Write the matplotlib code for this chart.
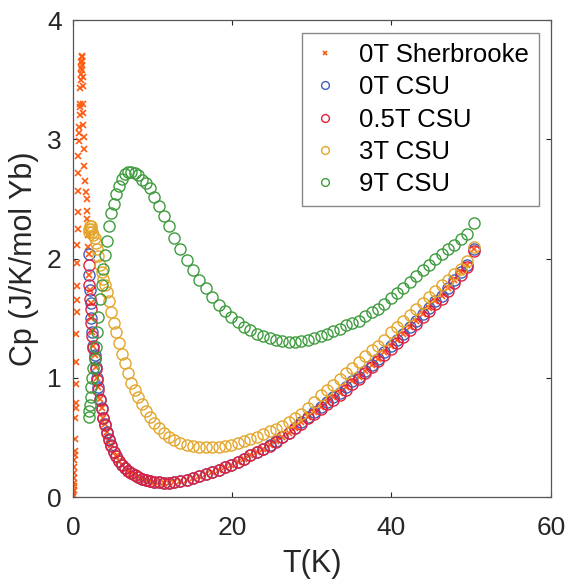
import matplotlib
matplotlib.use("Agg")
import matplotlib.pyplot as plt

plt.rcParams['font.family'] = ['Liberation Sans', 'DejaVu Sans']

# Temperature grid shared by the CSU runs (K)
t_csu = [1.97, 2.04, 2.13, 2.23, 2.34, 2.46, 2.59, 2.73, 2.88, 3.04,
         3.21, 3.40, 3.60, 3.82, 4.05, 4.30, 4.57, 4.85, 5.15, 5.47,
         5.80, 6.17, 6.55, 6.95, 7.36, 7.78, 8.20, 8.65, 9.15, 9.65,
         10.2, 10.8, 11.4, 12.05, 12.75, 13.5, 14.3, 15.1, 15.9, 16.7,
         17.5, 18.3, 19.1, 19.9, 20.7, 21.5, 22.3, 23.1, 23.9, 24.7,
         25.5, 26.3, 27.1, 27.9, 28.7, 29.5, 30.3, 31.1, 31.9, 32.7,
         33.5, 34.3, 35.1, 35.9, 36.7, 37.5, 38.3, 39.1, 39.9, 40.7,
         41.5, 42.3, 43.1, 43.9, 44.7, 45.5, 46.3, 47.1, 47.9, 48.7,
         49.5, 50.3]

cp_0t = [2.04, 1.86, 1.74, 1.63, 1.50, 1.38, 1.27, 1.19, 1.09, 1.00,
         0.92, 0.82, 0.745, 0.665, 0.61, 0.545, 0.485, 0.435, 0.38, 0.34,
         0.30, 0.27, 0.245, 0.22, 0.20, 0.183, 0.167, 0.152, 0.14, 0.132,
         0.126, 0.122, 0.12, 0.12, 0.124, 0.133, 0.145, 0.158, 0.173, 0.19,
         0.21, 0.23, 0.25, 0.27, 0.295, 0.32, 0.35, 0.375, 0.40, 0.435,
         0.47, 0.505, 0.54, 0.58, 0.625, 0.67, 0.715, 0.755, 0.795, 0.835,
         0.875, 0.92, 0.97, 1.01, 1.06, 1.11, 1.16, 1.215, 1.27, 1.32,
         1.37, 1.425, 1.48, 1.535, 1.585, 1.64, 1.69, 1.75, 1.82, 1.89,
         1.95, 2.08]

cp_05t = [1.95, 1.78, 1.66, 1.58, 1.46, 1.35, 1.25, 1.17, 1.07, 0.98,
          0.90, 0.81, 0.735, 0.66, 0.60, 0.54, 0.48, 0.43, 0.38, 0.34,
          0.30, 0.27, 0.245, 0.22, 0.20, 0.183, 0.167, 0.152, 0.14, 0.132,
          0.126, 0.122, 0.12, 0.12, 0.124, 0.133, 0.145, 0.158, 0.173, 0.19,
          0.21, 0.23, 0.25, 0.27, 0.295, 0.32, 0.35, 0.375, 0.40, 0.43,
          0.465, 0.50, 0.535, 0.575, 0.615, 0.66, 0.70, 0.74, 0.78, 0.815,
          0.855, 0.90, 0.95, 0.99, 1.04, 1.09, 1.14, 1.19, 1.245, 1.295,
          1.345, 1.40, 1.455, 1.51, 1.56, 1.615, 1.665, 1.725, 1.795, 1.865,
          1.93, 2.06]

cp_3t = [2.22, 2.25, 2.27, 2.27, 2.25, 2.22, 2.20, 2.17, 2.13, 2.08,
         2.02, 1.95, 1.89, 1.83, 1.78, 1.72, 1.64, 1.55, 1.46, 1.38,
         1.29, 1.20, 1.12, 1.04, 0.96, 0.90, 0.84, 0.78, 0.72, 0.67,
         0.62, 0.575, 0.535, 0.50, 0.475, 0.455, 0.44, 0.43, 0.42, 0.418,
         0.418, 0.422, 0.43, 0.44, 0.455, 0.47, 0.49, 0.505, 0.525, 0.55,
         0.57, 0.595, 0.625, 0.66, 0.70, 0.75, 0.80, 0.855, 0.90, 0.94,
         0.99, 1.04, 1.08, 1.13, 1.18, 1.23, 1.27, 1.32, 1.38, 1.43,
         1.48, 1.53, 1.58, 1.63, 1.68, 1.73, 1.78, 1.82, 1.87, 1.91,
         1.98, 2.10]

cp_9t = [0.67, 0.72, 0.77, 0.84, 0.92, 1.00, 1.08, 1.16, 1.26, 1.38,
         1.51, 1.66, 1.78, 1.91, 2.03, 2.15, 2.27, 2.38, 2.46, 2.54,
         2.61, 2.67, 2.71, 2.73, 2.73, 2.72, 2.70, 2.66, 2.63, 2.59,
         2.52, 2.44, 2.36, 2.27, 2.17, 2.08, 1.99, 1.90, 1.82, 1.75,
         1.68, 1.61, 1.56, 1.51, 1.47, 1.43, 1.40, 1.37, 1.35, 1.33,
         1.32, 1.31, 1.30, 1.30, 1.31, 1.32, 1.33, 1.35, 1.37, 1.39,
         1.41, 1.44, 1.46, 1.48, 1.52, 1.55, 1.58, 1.62, 1.67, 1.71,
         1.75, 1.80, 1.85, 1.90, 1.95, 2.00, 2.04, 2.08, 2.11, 2.16,
         2.21, 2.30]

# Sherbrooke dilution-fridge data below 2 K (the rest lies on the 0T CSU run)
t_sher_low = [0.05, 0.06, 0.08, 0.09, 0.10, 0.12, 0.13, 0.15, 0.17, 0.20,
              0.25, 0.28, 0.30, 0.33, 0.35, 0.37, 0.40, 0.42, 0.45, 0.47,
              0.50, 0.52, 0.55, 0.57, 0.60, 0.62, 0.65, 0.68, 0.70, 0.72,
              0.75, 0.80, 0.85, 0.88, 0.90, 0.95, 1.00, 1.02, 1.05, 1.08,
              1.10, 1.12, 1.15, 1.18, 1.20, 1.22, 1.25, 1.28, 1.30, 1.32,
              1.35, 1.40, 1.45, 1.55, 1.65, 1.72, 1.75, 1.80, 1.88, 1.95]
cp_sher_low = [0.00, 0.02, 0.04, 0.06, 0.09, 0.12, 0.16, 0.20, 0.25, 0.31,
               0.35, 0.39, 0.49, 0.66, 0.75, 0.79, 0.95, 1.13, 1.37, 1.55,
               1.65, 1.77, 1.96, 2.11, 2.25, 2.39, 2.57, 2.72, 2.86, 2.99,
               3.05, 3.10, 3.20, 3.27, 3.30, 3.43, 3.50, 3.55, 3.60, 3.65,
               3.69, 3.70, 3.66, 3.62, 3.58, 3.52, 3.45, 3.30, 3.22, 3.12,
               3.02, 2.92, 2.78, 2.65, 2.56, 2.50, 2.40, 2.33, 2.20, 2.10]

t_sher = t_sher_low + t_csu
cp_sher = cp_sher_low + cp_0t

fig = plt.figure(figsize=(5.69, 5.83), dpi=100)
ax = fig.add_axes([0.128, 0.1475, 0.840, 0.818])

ax.plot(t_sher, cp_sher, 'x', color='#ff5a10', ms=5, mew=1.2, label='0T Sherbrooke')
circ = dict(ls='none', marker='o', mfc='none', ms=8, mew=1.0)
ax.plot(t_csu, cp_0t, color='#4060b8', label='0T CSU', **circ)
ax.plot(t_csu, cp_05t, color='#e0203c', label='0.5T CSU', **circ)
ax.plot(t_csu, cp_3t, color='#e3a52a', label='3T CSU', **circ)
ax.plot(t_csu, cp_9t, color='#3e9b3e', label='9T CSU', **circ)

ax.set_xlim(0, 60)
ax.set_ylim(0, 4)
ax.set_xticks([0, 20, 40, 60])
ax.set_yticks([0, 1, 2, 3, 4])
ax.tick_params(direction='in', length=3.6, width=0.8, top=True, right=True,
               labelsize=19, colors='#262626')
ax.tick_params(axis='x', pad=14)
ax.tick_params(axis='y', pad=8)
for s in ax.spines.values():
    s.set_color('#555555')
    s.set_linewidth(0.9)

ax.set_xlabel('T(K)', fontsize=22, color='#262626', labelpad=6)
ax.set_ylabel('Cp (J/K/mol Yb)', fontsize=22, color='#262626', labelpad=6)

leg = ax.legend(loc='upper right', bbox_to_anchor=(0.975, 0.973), borderaxespad=0,
                fontsize=18.5, markerscale=0.7, handlelength=1.0, handletextpad=0.8,
                labelspacing=0.32, fancybox=False, framealpha=1, borderpad=0.4)
leg.get_frame().set_edgecolor('#888888')
leg.get_frame().set_linewidth(1.0)

fig.savefig('out.png', dpi=100)
